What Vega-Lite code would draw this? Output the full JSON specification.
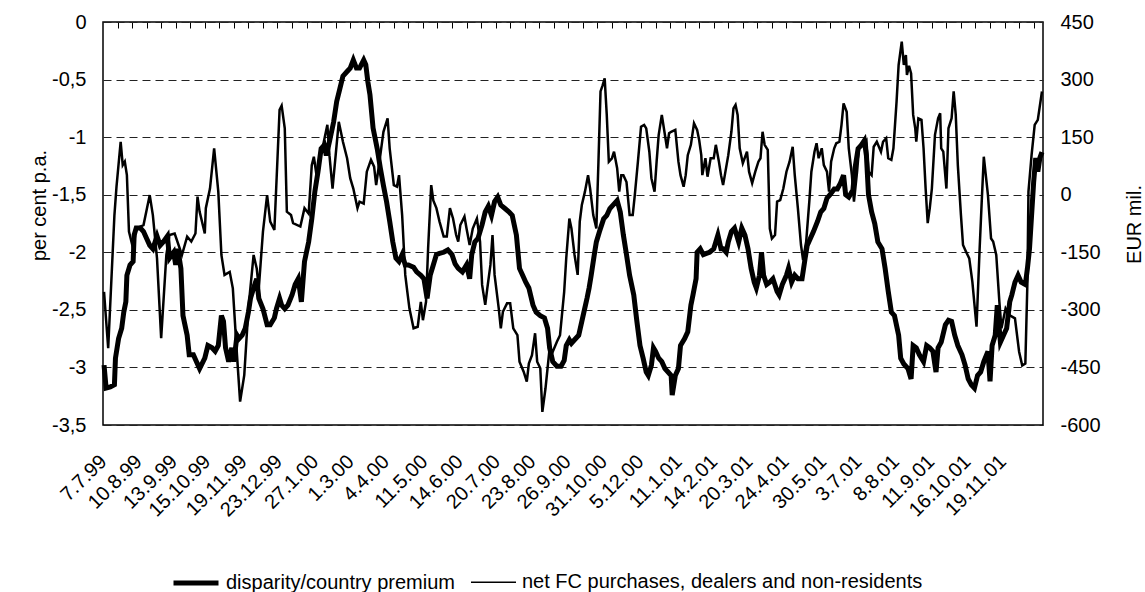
{
"$schema": "https://vega.github.io/schema/vega-lite/v6.json",
"width": 940,
"height": 403,
"autosize": {"type": "none"},
"padding": {"left": 103, "top": 22, "right": 102, "bottom": 167},
"background": "white",
"config": {
  "view": {"stroke": "black", "strokeWidth": 1.5},
  "font": "Liberation Sans",
  "axis": {"labelFont": "Liberation Sans", "titleFont": "Liberation Sans", "labelColor": "black", "titleColor": "black", "titleFontWeight": "normal"},
  "legend": {"labelFont": "Liberation Sans", "labelColor": "black"}
},
"datasets": {
"disparity": [
{"date":"1999-07-08","value":-2.98},{"date":"1999-07-10","value":-3.18},{"date":"1999-07-14","value":-3.17},{"date":"1999-07-18","value":-3.15},{"date":"1999-07-19","value":-2.92},{"date":"1999-07-22","value":-2.75},{"date":"1999-07-25","value":-2.66},{"date":"1999-07-27","value":-2.52},{"date":"1999-07-29","value":-2.43},{"date":"1999-07-30","value":-2.2},
{"date":"1999-08-02","value":-2.11},{"date":"1999-08-05","value":-2.08},{"date":"1999-08-06","value":-1.85},{"date":"1999-08-08","value":-1.79},{"date":"1999-08-12","value":-1.79},{"date":"1999-08-15","value":-1.82},{"date":"1999-08-18","value":-1.88},{"date":"1999-08-21","value":-1.94},{"date":"1999-08-24","value":-1.97},{"date":"1999-08-28","value":-1.86},{"date":"1999-08-31","value":-1.94},
{"date":"1999-09-03","value":-1.91},{"date":"1999-09-07","value":-1.86},{"date":"1999-09-09","value":-2.05},{"date":"1999-09-13","value":-2.0},{"date":"1999-09-15","value":-2.11},{"date":"1999-09-17","value":-1.97},{"date":"1999-09-20","value":-2.14},{"date":"1999-09-22","value":-2.55},{"date":"1999-09-26","value":-2.72},{"date":"1999-09-28","value":-2.89},
{"date":"1999-10-02","value":-2.89},{"date":"1999-10-05","value":-2.95},{"date":"1999-10-08","value":-3.01},{"date":"1999-10-13","value":-2.92},{"date":"1999-10-16","value":-2.81},{"date":"1999-10-20","value":-2.83},{"date":"1999-10-23","value":-2.86},{"date":"1999-10-26","value":-2.81},{"date":"1999-10-29","value":-2.55},{"date":"1999-10-31","value":-2.6},
{"date":"1999-11-02","value":-2.83},{"date":"1999-11-05","value":-2.95},{"date":"1999-11-08","value":-2.83},{"date":"1999-11-10","value":-2.95},{"date":"1999-11-13","value":-2.72},{"date":"1999-11-15","value":-2.75},{"date":"1999-11-18","value":-2.72},{"date":"1999-11-21","value":-2.66},{"date":"1999-11-24","value":-2.52},{"date":"1999-11-26","value":-2.4},{"date":"1999-11-29","value":-2.31},
{"date":"1999-12-02","value":-2.23},{"date":"1999-12-04","value":-2.4},{"date":"1999-12-08","value":-2.49},{"date":"1999-12-12","value":-2.63},{"date":"1999-12-15","value":-2.63},{"date":"1999-12-19","value":-2.57},{"date":"1999-12-21","value":-2.49},{"date":"1999-12-24","value":-2.4},{"date":"1999-12-26","value":-2.46},{"date":"1999-12-29","value":-2.49},
{"date":"2000-01-01","value":-2.46},{"date":"2000-01-05","value":-2.37},{"date":"2000-01-08","value":-2.28},{"date":"2000-01-11","value":-2.23},{"date":"2000-01-14","value":-2.43},{"date":"2000-01-17","value":-2.08},{"date":"2000-01-21","value":-1.91},{"date":"2000-01-24","value":-1.71},{"date":"2000-01-27","value":-1.47},{"date":"2000-01-30","value":-1.3},
{"date":"2000-02-02","value":-1.1},{"date":"2000-02-05","value":-1.07},{"date":"2000-02-07","value":-1.16},{"date":"2000-02-10","value":-1.04},{"date":"2000-02-14","value":-0.87},{"date":"2000-02-17","value":-0.69},{"date":"2000-02-20","value":-0.58},{"date":"2000-02-23","value":-0.47},{"date":"2000-02-27","value":-0.43},
{"date":"2000-03-01","value":-0.4},{"date":"2000-03-04","value":-0.33},{"date":"2000-03-07","value":-0.4},{"date":"2000-03-10","value":-0.4},{"date":"2000-03-14","value":-0.33},{"date":"2000-03-16","value":-0.37},{"date":"2000-03-18","value":-0.52},{"date":"2000-03-20","value":-0.63},{"date":"2000-03-23","value":-0.92},{"date":"2000-03-27","value":-1.1},{"date":"2000-03-30","value":-1.27},
{"date":"2000-04-02","value":-1.42},{"date":"2000-04-05","value":-1.56},{"date":"2000-04-08","value":-1.73},{"date":"2000-04-11","value":-1.91},{"date":"2000-04-14","value":-2.05},{"date":"2000-04-17","value":-2.08},{"date":"2000-04-20","value":-2.02},{"date":"2000-04-23","value":-2.11},{"date":"2000-04-26","value":-2.11},
{"date":"2000-05-01","value":-2.13},{"date":"2000-05-04","value":-2.17},{"date":"2000-05-08","value":-2.2},{"date":"2000-05-11","value":-2.23},{"date":"2000-05-14","value":-2.4},{"date":"2000-05-17","value":-2.2},{"date":"2000-05-20","value":-2.11},{"date":"2000-05-23","value":-2.02},{"date":"2000-05-26","value":-2.01},{"date":"2000-05-30","value":-2.0},
{"date":"2000-06-03","value":-1.98},{"date":"2000-06-07","value":-2.02},{"date":"2000-06-10","value":-2.1},{"date":"2000-06-13","value":-2.14},{"date":"2000-06-17","value":-2.17},{"date":"2000-06-21","value":-2.11},{"date":"2000-06-24","value":-2.23},{"date":"2000-06-26","value":-2.02},{"date":"2000-06-29","value":-1.91},
{"date":"2000-07-02","value":-1.88},{"date":"2000-07-06","value":-1.76},{"date":"2000-07-09","value":-1.65},{"date":"2000-07-12","value":-1.6},{"date":"2000-07-15","value":-1.68},{"date":"2000-07-18","value":-1.56},{"date":"2000-07-21","value":-1.52},{"date":"2000-07-24","value":-1.59},{"date":"2000-07-28","value":-1.62},
{"date":"2000-08-01","value":-1.65},{"date":"2000-08-04","value":-1.68},{"date":"2000-08-08","value":-1.85},{"date":"2000-08-11","value":-2.14},{"date":"2000-08-14","value":-2.2},{"date":"2000-08-17","value":-2.26},{"date":"2000-08-20","value":-2.31},{"date":"2000-08-24","value":-2.46},{"date":"2000-08-27","value":-2.52},{"date":"2000-08-31","value":-2.55},
{"date":"2000-09-04","value":-2.57},{"date":"2000-09-07","value":-2.66},{"date":"2000-09-09","value":-2.83},{"date":"2000-09-12","value":-2.95},{"date":"2000-09-16","value":-2.99},{"date":"2000-09-20","value":-2.99},{"date":"2000-09-23","value":-2.94},{"date":"2000-09-25","value":-2.81},{"date":"2000-09-28","value":-2.76},{"date":"2000-09-30","value":-2.79},
{"date":"2000-10-03","value":-2.76},{"date":"2000-10-07","value":-2.72},{"date":"2000-10-10","value":-2.6},{"date":"2000-10-12","value":-2.52},{"date":"2000-10-15","value":-2.4},{"date":"2000-10-17","value":-2.31},{"date":"2000-10-19","value":-2.2},{"date":"2000-10-22","value":-2.02},{"date":"2000-10-24","value":-1.91},{"date":"2000-10-27","value":-1.82},{"date":"2000-10-31","value":-1.71},
{"date":"2000-11-03","value":-1.68},{"date":"2000-11-06","value":-1.62},{"date":"2000-11-09","value":-1.59},{"date":"2000-11-13","value":-1.55},{"date":"2000-11-16","value":-1.65},{"date":"2000-11-19","value":-1.85},{"date":"2000-11-22","value":-2.02},{"date":"2000-11-25","value":-2.2},{"date":"2000-11-29","value":-2.37},
{"date":"2000-12-02","value":-2.6},{"date":"2000-12-05","value":-2.81},{"date":"2000-12-08","value":-2.92},{"date":"2000-12-11","value":-3.04},{"date":"2000-12-13","value":-3.07},{"date":"2000-12-16","value":-2.98},{"date":"2000-12-18","value":-2.83},{"date":"2000-12-20","value":-2.86},{"date":"2000-12-23","value":-2.92},{"date":"2000-12-26","value":-2.95},{"date":"2000-12-29","value":-3.01},
{"date":"2001-01-01","value":-3.04},{"date":"2001-01-04","value":-3.07},{"date":"2001-01-05","value":-3.24},{"date":"2001-01-08","value":-3.07},{"date":"2001-01-11","value":-3.01},{"date":"2001-01-13","value":-2.81},{"date":"2001-01-17","value":-2.75},{"date":"2001-01-20","value":-2.69},{"date":"2001-01-23","value":-2.46},{"date":"2001-01-25","value":-2.37},{"date":"2001-01-28","value":-2.23},{"date":"2001-01-29","value":-2.0},
{"date":"2001-02-01","value":-1.97},{"date":"2001-02-04","value":-2.02},{"date":"2001-02-07","value":-2.01},{"date":"2001-02-10","value":-2.0},{"date":"2001-02-14","value":-1.97},{"date":"2001-02-16","value":-1.91},{"date":"2001-02-18","value":-1.85},{"date":"2001-02-21","value":-1.97},{"date":"2001-02-23","value":-1.97},{"date":"2001-02-26","value":-2.0},{"date":"2001-02-28","value":-1.91},
{"date":"2001-03-03","value":-1.82},{"date":"2001-03-06","value":-1.79},{"date":"2001-03-10","value":-1.91},{"date":"2001-03-13","value":-1.79},{"date":"2001-03-16","value":-1.85},{"date":"2001-03-19","value":-1.97},{"date":"2001-03-22","value":-2.14},{"date":"2001-03-25","value":-2.26},{"date":"2001-03-27","value":-2.31},{"date":"2001-03-30","value":-2.2},
{"date":"2001-04-01","value":-2.0},{"date":"2001-04-03","value":-2.2},{"date":"2001-04-06","value":-2.28},{"date":"2001-04-09","value":-2.26},{"date":"2001-04-12","value":-2.23},{"date":"2001-04-16","value":-2.34},{"date":"2001-04-18","value":-2.37},{"date":"2001-04-21","value":-2.28},{"date":"2001-04-25","value":-2.2},{"date":"2001-04-27","value":-2.14},{"date":"2001-04-30","value":-2.26},
{"date":"2001-05-03","value":-2.2},{"date":"2001-05-06","value":-2.23},{"date":"2001-05-10","value":-2.23},{"date":"2001-05-13","value":-2.05},{"date":"2001-05-15","value":-1.94},{"date":"2001-05-18","value":-1.88},{"date":"2001-05-21","value":-1.82},{"date":"2001-05-25","value":-1.73},{"date":"2001-05-28","value":-1.65},{"date":"2001-05-31","value":-1.62},
{"date":"2001-06-03","value":-1.53},{"date":"2001-06-06","value":-1.5},{"date":"2001-06-10","value":-1.45},{"date":"2001-06-13","value":-1.45},{"date":"2001-06-16","value":-1.4},{"date":"2001-06-19","value":-1.33},{"date":"2001-06-21","value":-1.5},{"date":"2001-06-24","value":-1.52},{"date":"2001-06-28","value":-1.46},{"date":"2001-06-30","value":-1.27},
{"date":"2001-07-03","value":-1.1},{"date":"2001-07-06","value":-1.07},{"date":"2001-07-09","value":-1.03},{"date":"2001-07-11","value":-1.16},{"date":"2001-07-13","value":-1.5},{"date":"2001-07-16","value":-1.65},{"date":"2001-07-19","value":-1.75},{"date":"2001-07-22","value":-1.91},{"date":"2001-07-26","value":-1.97},{"date":"2001-07-29","value":-2.14},
{"date":"2001-08-01","value":-2.34},{"date":"2001-08-04","value":-2.52},{"date":"2001-08-07","value":-2.55},{"date":"2001-08-11","value":-2.72},{"date":"2001-08-13","value":-2.92},{"date":"2001-08-16","value":-2.97},{"date":"2001-08-20","value":-3.01},{"date":"2001-08-23","value":-3.1},{"date":"2001-08-25","value":-2.81},{"date":"2001-08-28","value":-2.83},{"date":"2001-08-31","value":-2.89},
{"date":"2001-09-04","value":-2.95},{"date":"2001-09-07","value":-2.81},{"date":"2001-09-10","value":-2.83},{"date":"2001-09-13","value":-2.86},{"date":"2001-09-16","value":-3.04},{"date":"2001-09-18","value":-2.83},{"date":"2001-09-21","value":-2.78},{"date":"2001-09-25","value":-2.63},{"date":"2001-09-28","value":-2.59},
{"date":"2001-10-01","value":-2.6},{"date":"2001-10-04","value":-2.72},{"date":"2001-10-07","value":-2.81},{"date":"2001-10-11","value":-2.89},{"date":"2001-10-14","value":-2.98},{"date":"2001-10-17","value":-3.1},{"date":"2001-10-20","value":-3.15},{"date":"2001-10-23","value":-3.18},{"date":"2001-10-26","value":-3.07},{"date":"2001-10-29","value":-3.04},
{"date":"2001-11-01","value":-2.95},{"date":"2001-11-05","value":-2.86},{"date":"2001-11-07","value":-3.12},{"date":"2001-11-09","value":-2.81},{"date":"2001-11-12","value":-2.72},{"date":"2001-11-14","value":-2.46},{"date":"2001-11-17","value":-2.78},{"date":"2001-11-20","value":-2.72},{"date":"2001-11-23","value":-2.66},{"date":"2001-11-26","value":-2.43},{"date":"2001-11-28","value":-2.37},
{"date":"2001-12-01","value":-2.26},{"date":"2001-12-04","value":-2.2},{"date":"2001-12-07","value":-2.26},{"date":"2001-12-11","value":-2.28},{"date":"2001-12-13","value":-2.14},{"date":"2001-12-15","value":-1.97},{"date":"2001-12-17","value":-1.68},{"date":"2001-12-19","value":-1.39},{"date":"2001-12-21","value":-1.18},{"date":"2001-12-23","value":-1.3},{"date":"2001-12-25","value":-1.18},{"date":"2001-12-27","value":-1.13}
],
"netfc": [
{"date":"1999-07-08","value":-253},{"date":"1999-07-12","value":-400},{"date":"1999-07-18","value":-53},{"date":"1999-07-20","value":21},{"date":"1999-07-24","value":138},{"date":"1999-07-26","value":77},{"date":"1999-07-28","value":86},{"date":"1999-07-30","value":51},
{"date":"1999-08-01","value":-96},{"date":"1999-08-05","value":-140},{"date":"1999-08-08","value":-88},{"date":"1999-08-15","value":-79},{"date":"1999-08-18","value":-40},{"date":"1999-08-21","value":-1},{"date":"1999-08-24","value":-53},{"date":"1999-08-28","value":-166},
{"date":"1999-09-01","value":-374},{"date":"1999-09-06","value":-157},{"date":"1999-09-09","value":-105},{"date":"1999-09-14","value":-101},{"date":"1999-09-21","value":-157},{"date":"1999-09-26","value":-109},{"date":"1999-09-30","value":-122},
{"date":"1999-10-04","value":-101},{"date":"1999-10-06","value":-5},{"date":"1999-10-08","value":-44},{"date":"1999-10-13","value":-101},{"date":"1999-10-14","value":-35},{"date":"1999-10-18","value":16},{"date":"1999-10-22","value":121},{"date":"1999-10-26","value":8},{"date":"1999-10-29","value":-157},
{"date":"1999-11-01","value":-209},{"date":"1999-11-06","value":-201},{"date":"1999-11-09","value":-244},{"date":"1999-11-13","value":-418},{"date":"1999-11-16","value":-539},{"date":"1999-11-20","value":-470},{"date":"1999-11-24","value":-296},{"date":"1999-11-29","value":-157},
{"date":"1999-12-02","value":-192},{"date":"1999-12-04","value":-244},{"date":"1999-12-08","value":-96},{"date":"1999-12-12","value":-1},{"date":"1999-12-15","value":-70},{"date":"1999-12-19","value":-92},{"date":"1999-12-22","value":95},{"date":"1999-12-24","value":221},{"date":"1999-12-26","value":232},{"date":"1999-12-29","value":173},{"date":"1999-12-31","value":-44},
{"date":"2000-01-04","value":-53},{"date":"2000-01-06","value":-74},{"date":"2000-01-13","value":-83},{"date":"2000-01-17","value":-35},{"date":"2000-01-21","value":-49},{"date":"2000-01-24","value":77},{"date":"2000-01-26","value":99},{"date":"2000-01-29","value":43},
{"date":"2000-02-01","value":103},{"date":"2000-02-04","value":130},{"date":"2000-02-08","value":182},{"date":"2000-02-10","value":103},{"date":"2000-02-13","value":16},{"date":"2000-02-16","value":103},{"date":"2000-02-19","value":190},{"date":"2000-02-23","value":138},{"date":"2000-02-27","value":95},
{"date":"2000-03-01","value":43},{"date":"2000-03-04","value":16},{"date":"2000-03-08","value":-35},{"date":"2000-03-10","value":-18},{"date":"2000-03-14","value":-23},{"date":"2000-03-17","value":60},{"date":"2000-03-21","value":91},{"date":"2000-03-24","value":73},{"date":"2000-03-26","value":25},{"date":"2000-03-30","value":103},
{"date":"2000-04-02","value":164},{"date":"2000-04-06","value":199},{"date":"2000-04-08","value":121},{"date":"2000-04-12","value":25},{"date":"2000-04-15","value":21},{"date":"2000-04-17","value":51},{"date":"2000-04-20","value":-53},{"date":"2000-04-23","value":-209},{"date":"2000-04-25","value":-253},{"date":"2000-04-27","value":-296},
{"date":"2000-05-01","value":-348},{"date":"2000-05-05","value":-344},{"date":"2000-05-08","value":-279},{"date":"2000-05-10","value":-327},{"date":"2000-05-13","value":-279},{"date":"2000-05-15","value":-140},{"date":"2000-05-18","value":25},{"date":"2000-05-20","value":-15},{"date":"2000-05-23","value":-35},{"date":"2000-05-26","value":-70},{"date":"2000-05-30","value":-109},
{"date":"2000-06-02","value":-109},{"date":"2000-06-05","value":-35},{"date":"2000-06-08","value":-62},{"date":"2000-06-11","value":-105},{"date":"2000-06-13","value":-122},{"date":"2000-06-15","value":-79},{"date":"2000-06-19","value":-57},{"date":"2000-06-21","value":-88},{"date":"2000-06-24","value":-131},{"date":"2000-06-27","value":-88},
{"date":"2000-07-01","value":-62},{"date":"2000-07-04","value":-122},{"date":"2000-07-06","value":-235},{"date":"2000-07-09","value":-287},{"date":"2000-07-11","value":-244},{"date":"2000-07-14","value":-183},{"date":"2000-07-16","value":-105},{"date":"2000-07-18","value":-209},{"date":"2000-07-22","value":-296},{"date":"2000-07-24","value":-348},{"date":"2000-07-26","value":-305},{"date":"2000-07-30","value":-283},
{"date":"2000-08-02","value":-283},{"date":"2000-08-05","value":-348},{"date":"2000-08-09","value":-366},{"date":"2000-08-11","value":-435},{"date":"2000-08-15","value":-461},{"date":"2000-08-18","value":-487},{"date":"2000-08-20","value":-440},{"date":"2000-08-23","value":-418},{"date":"2000-08-26","value":-361},{"date":"2000-08-28","value":-435},{"date":"2000-08-31","value":-452},
{"date":"2000-09-02","value":-566},{"date":"2000-09-05","value":-505},{"date":"2000-09-09","value":-400},{"date":"2000-09-12","value":-409},{"date":"2000-09-16","value":-383},{"date":"2000-09-19","value":-366},{"date":"2000-09-23","value":-253},{"date":"2000-09-25","value":-165},{"date":"2000-09-28","value":-62},{"date":"2000-09-30","value":-88},
{"date":"2000-10-03","value":-157},{"date":"2000-10-06","value":-209},{"date":"2000-10-08","value":-70},{"date":"2000-10-10","value":-27},{"date":"2000-10-13","value":8},{"date":"2000-10-16","value":51},{"date":"2000-10-18","value":16},{"date":"2000-10-21","value":-53},{"date":"2000-10-24","value":-88},{"date":"2000-10-26","value":86},{"date":"2000-10-28","value":269},{"date":"2000-10-30","value":285},
{"date":"2000-11-01","value":303},{"date":"2000-11-03","value":208},{"date":"2000-11-05","value":86},{"date":"2000-11-08","value":95},{"date":"2000-11-10","value":112},{"date":"2000-11-13","value":69},{"date":"2000-11-15","value":8},{"date":"2000-11-17","value":51},{"date":"2000-11-19","value":51},{"date":"2000-11-22","value":33},{"date":"2000-11-25","value":-53},{"date":"2000-11-28","value":-53},{"date":"2000-11-30","value":-1},
{"date":"2000-12-03","value":86},{"date":"2000-12-06","value":177},{"date":"2000-12-09","value":182},{"date":"2000-12-11","value":173},{"date":"2000-12-14","value":112},{"date":"2000-12-16","value":43},{"date":"2000-12-19","value":8},{"date":"2000-12-21","value":86},{"date":"2000-12-23","value":156},{"date":"2000-12-26","value":208},{"date":"2000-12-28","value":173},{"date":"2000-12-31","value":121},
{"date":"2001-01-02","value":160},{"date":"2001-01-04","value":164},{"date":"2001-01-08","value":169},{"date":"2001-01-11","value":86},{"date":"2001-01-13","value":51},{"date":"2001-01-16","value":21},{"date":"2001-01-18","value":51},{"date":"2001-01-20","value":103},{"date":"2001-01-23","value":130},{"date":"2001-01-26","value":186},{"date":"2001-01-29","value":169},{"date":"2001-01-31","value":142},
{"date":"2001-02-02","value":103},{"date":"2001-02-03","value":51},{"date":"2001-02-06","value":95},{"date":"2001-02-08","value":47},{"date":"2001-02-11","value":95},{"date":"2001-02-14","value":95},{"date":"2001-02-16","value":130},{"date":"2001-02-19","value":86},{"date":"2001-02-21","value":51},{"date":"2001-02-23","value":25},{"date":"2001-02-28","value":103},
{"date":"2001-03-03","value":164},{"date":"2001-03-05","value":225},{"date":"2001-03-07","value":234},{"date":"2001-03-09","value":208},{"date":"2001-03-11","value":121},{"date":"2001-03-14","value":82},{"date":"2001-03-18","value":112},{"date":"2001-03-20","value":60},{"date":"2001-03-23","value":30},{"date":"2001-03-26","value":60},{"date":"2001-03-29","value":86},{"date":"2001-03-31","value":95},
{"date":"2001-04-02","value":164},{"date":"2001-04-04","value":130},{"date":"2001-04-07","value":117},{"date":"2001-04-09","value":-88},{"date":"2001-04-11","value":-114},{"date":"2001-04-14","value":-105},{"date":"2001-04-16","value":-18},{"date":"2001-04-19","value":-14},{"date":"2001-04-22","value":16},{"date":"2001-04-25","value":60},{"date":"2001-04-28","value":86},
{"date":"2001-05-01","value":125},{"date":"2001-05-03","value":51},{"date":"2001-05-06","value":-35},{"date":"2001-05-09","value":-131},{"date":"2001-05-11","value":-170},{"date":"2001-05-14","value":-122},{"date":"2001-05-17","value":-18},{"date":"2001-05-19","value":60},{"date":"2001-05-22","value":112},{"date":"2001-05-24","value":134},{"date":"2001-05-26","value":95},{"date":"2001-05-29","value":121},{"date":"2001-05-31","value":77},
{"date":"2001-06-03","value":60},{"date":"2001-06-05","value":8},{"date":"2001-06-07","value":86},{"date":"2001-06-10","value":121},{"date":"2001-06-12","value":134},{"date":"2001-06-15","value":138},{"date":"2001-06-17","value":182},{"date":"2001-06-19","value":238},{"date":"2001-06-22","value":216},{"date":"2001-06-24","value":121},{"date":"2001-06-27","value":51},{"date":"2001-06-29","value":-18},
{"date":"2001-07-02","value":60},{"date":"2001-07-04","value":125},{"date":"2001-07-07","value":130},{"date":"2001-07-11","value":142},{"date":"2001-07-13","value":60},{"date":"2001-07-16","value":51},{"date":"2001-07-18","value":125},{"date":"2001-07-21","value":138},{"date":"2001-07-25","value":112},{"date":"2001-07-27","value":138},{"date":"2001-07-30","value":147},
{"date":"2001-08-01","value":95},{"date":"2001-08-04","value":91},{"date":"2001-08-06","value":121},{"date":"2001-08-09","value":242},{"date":"2001-08-11","value":338},{"date":"2001-08-14","value":399},{"date":"2001-08-16","value":338},{"date":"2001-08-18","value":364},{"date":"2001-08-19","value":312},{"date":"2001-08-21","value":336},{"date":"2001-08-23","value":316},{"date":"2001-08-25","value":208},{"date":"2001-08-27","value":173},{"date":"2001-08-28","value":138},{"date":"2001-08-30","value":199},
{"date":"2001-09-02","value":195},{"date":"2001-09-04","value":121},{"date":"2001-09-06","value":16},{"date":"2001-09-08","value":-74},{"date":"2001-09-10","value":-35},{"date":"2001-09-12","value":16},{"date":"2001-09-15","value":156},{"date":"2001-09-18","value":199},{"date":"2001-09-20","value":212},{"date":"2001-09-21","value":121},{"date":"2001-09-23","value":112},{"date":"2001-09-26","value":16},{"date":"2001-09-28","value":173},
{"date":"2001-10-01","value":199},{"date":"2001-10-03","value":269},{"date":"2001-10-05","value":208},{"date":"2001-10-07","value":77},{"date":"2001-10-10","value":-53},{"date":"2001-10-12","value":-131},{"date":"2001-10-15","value":-149},{"date":"2001-10-18","value":-166},{"date":"2001-10-21","value":-227},{"date":"2001-10-25","value":-344},{"date":"2001-10-28","value":-140},{"date":"2001-10-30","value":-18},
{"date":"2001-11-01","value":99},{"date":"2001-11-05","value":-1},{"date":"2001-11-08","value":-114},{"date":"2001-11-10","value":-122},{"date":"2001-11-13","value":-157},{"date":"2001-11-16","value":-279},{"date":"2001-11-18","value":-348},{"date":"2001-11-22","value":-296},{"date":"2001-11-26","value":-314},
{"date":"2001-12-01","value":-322},{"date":"2001-12-05","value":-409},{"date":"2001-12-08","value":-445},{"date":"2001-12-11","value":-440},{"date":"2001-12-13","value":-227},{"date":"2001-12-14","value":8},{"date":"2001-12-17","value":103},{"date":"2001-12-20","value":182},{"date":"2001-12-23","value":195},{"date":"2001-12-27","value":269}
]
},
"layer": [
{
  "data": {"name": "disparity"},
  "mark": {"type": "line", "color": "black"},
  "encoding": {
    "x": {"field": "date", "type": "temporal",
      "scale": {"type": "utc", "domain": [{"year":1999,"month":7,"date":7,"utc":true},{"year":2001,"month":12,"date":28,"utc":true}]},
      "axis": {"orient": "bottom", "title": null, "grid": false, "domain": false, "ticks": false,
        "labelExpr": "utcFormat(datum.value, '%-d.%-m.%y')", "labelAngle": -45, "labelFontSize": 20, "labelPadding": 26, "labelOffset": -7,
        "labelOverlap": false, "labelBound": false, "labelFlush": false,
        "values": [
          {"year":1999,"month":7,"date":7,"utc":true},{"year":1999,"month":8,"date":10,"utc":true},{"year":1999,"month":9,"date":13,"utc":true},{"year":1999,"month":10,"date":15,"utc":true},{"year":1999,"month":11,"date":19,"utc":true},{"year":1999,"month":12,"date":23,"utc":true},
          {"year":2000,"month":1,"date":27,"utc":true},{"year":2000,"month":3,"date":1,"utc":true},{"year":2000,"month":4,"date":4,"utc":true},{"year":2000,"month":5,"date":11,"utc":true},{"year":2000,"month":6,"date":14,"utc":true},{"year":2000,"month":7,"date":20,"utc":true},{"year":2000,"month":8,"date":23,"utc":true},{"year":2000,"month":9,"date":26,"utc":true},{"year":2000,"month":10,"date":31,"utc":true},{"year":2000,"month":12,"date":5,"utc":true},
          {"year":2001,"month":1,"date":11,"utc":true},{"year":2001,"month":2,"date":14,"utc":true},{"year":2001,"month":3,"date":20,"utc":true},{"year":2001,"month":4,"date":24,"utc":true},{"year":2001,"month":5,"date":30,"utc":true},{"year":2001,"month":7,"date":3,"utc":true},{"year":2001,"month":8,"date":8,"utc":true},{"year":2001,"month":9,"date":11,"utc":true},{"year":2001,"month":10,"date":16,"utc":true},{"year":2001,"month":11,"date":19,"utc":true}
        ]}},
    "y": {"field": "value", "type": "quantitative",
      "scale": {"domain": [-3.5, 0], "nice": false, "zero": false},
      "axis": {"title": "per cent p.a.", "titleFontSize": 20, "titleAngle": 270, "titleAlign": "center", "titleBaseline": "middle", "titleX": -64, "titleY": 183,
        "values": [0, -0.5, -1, -1.5, -2, -2.5, -3, -3.5],
        "labelExpr": "replace(toString(datum.value), '.', ',')",
        "labelFontSize": 20, "labelPadding": 17, "ticks": false, "domain": false,
        "grid": true, "gridColor": "#222222", "gridDash": [8, 5], "gridWidth": 1}},
    "strokeWidth": {"datum": "disparity/country premium", "type": "nominal",
      "scale": {"type": "ordinal", "domain": ["disparity/country premium", "net FC purchases, dealers and non-residents"], "range": [5, 1.5]},
      "legend": {"orient": "none", "legendX": 68, "legendY": 536, "direction": "horizontal", "title": null,
        "symbolType": "stroke", "symbolSize": 2025, "symbolStrokeColor": "black", "symbolFillColor": "black",
        "labelFontSize": 20, "labelOffset": 5, "columnPadding": 13, "labelLimit": 700, "padding": 0}}
  }
},
{
  "data": {"name": "netfc"},
  "mark": {"type": "line", "color": "black"},
  "encoding": {
    "x": {"field": "date", "type": "temporal",
      "scale": {"type": "utc", "domain": [{"year":1999,"month":7,"date":7,"utc":true},{"year":2001,"month":12,"date":28,"utc":true}]},
      "axis": {"orient": "bottom", "title": null, "domain": false, "labels": false, "ticks": false,
        "grid": true, "gridColor": "black", "gridWidth": 1, "gridOpacity": 1, "gridDash": [6, 2000],
        "values": [
          {"year":1999,"month":7,"date":21,"utc":true},{"year":1999,"month":8,"date":4,"utc":true},{"year":1999,"month":8,"date":18,"utc":true},{"year":1999,"month":9,"date":1,"utc":true},{"year":1999,"month":9,"date":15,"utc":true},{"year":1999,"month":9,"date":29,"utc":true},{"year":1999,"month":10,"date":13,"utc":true},{"year":1999,"month":10,"date":27,"utc":true},{"year":1999,"month":11,"date":10,"utc":true},{"year":1999,"month":11,"date":24,"utc":true},{"year":1999,"month":12,"date":8,"utc":true},{"year":1999,"month":12,"date":22,"utc":true},
          {"year":2000,"month":1,"date":5,"utc":true},{"year":2000,"month":1,"date":19,"utc":true},{"year":2000,"month":2,"date":2,"utc":true},{"year":2000,"month":2,"date":16,"utc":true},{"year":2000,"month":3,"date":1,"utc":true},{"year":2000,"month":3,"date":15,"utc":true},{"year":2000,"month":3,"date":29,"utc":true},{"year":2000,"month":4,"date":12,"utc":true},{"year":2000,"month":4,"date":26,"utc":true},{"year":2000,"month":5,"date":10,"utc":true},{"year":2000,"month":5,"date":24,"utc":true},{"year":2000,"month":6,"date":7,"utc":true},{"year":2000,"month":6,"date":21,"utc":true},{"year":2000,"month":7,"date":5,"utc":true},{"year":2000,"month":7,"date":19,"utc":true},{"year":2000,"month":8,"date":2,"utc":true},{"year":2000,"month":8,"date":16,"utc":true},{"year":2000,"month":8,"date":30,"utc":true},{"year":2000,"month":9,"date":13,"utc":true},{"year":2000,"month":9,"date":27,"utc":true},{"year":2000,"month":10,"date":11,"utc":true},{"year":2000,"month":10,"date":25,"utc":true},{"year":2000,"month":11,"date":8,"utc":true},{"year":2000,"month":11,"date":22,"utc":true},{"year":2000,"month":12,"date":6,"utc":true},{"year":2000,"month":12,"date":20,"utc":true},
          {"year":2001,"month":1,"date":3,"utc":true},{"year":2001,"month":1,"date":17,"utc":true},{"year":2001,"month":1,"date":31,"utc":true},{"year":2001,"month":2,"date":14,"utc":true},{"year":2001,"month":2,"date":28,"utc":true},{"year":2001,"month":3,"date":14,"utc":true},{"year":2001,"month":3,"date":28,"utc":true},{"year":2001,"month":4,"date":11,"utc":true},{"year":2001,"month":4,"date":25,"utc":true},{"year":2001,"month":5,"date":9,"utc":true},{"year":2001,"month":5,"date":23,"utc":true},{"year":2001,"month":6,"date":6,"utc":true},{"year":2001,"month":6,"date":20,"utc":true},{"year":2001,"month":7,"date":4,"utc":true},{"year":2001,"month":7,"date":18,"utc":true},{"year":2001,"month":8,"date":1,"utc":true},{"year":2001,"month":8,"date":15,"utc":true},{"year":2001,"month":8,"date":29,"utc":true},{"year":2001,"month":9,"date":12,"utc":true},{"year":2001,"month":9,"date":26,"utc":true},{"year":2001,"month":10,"date":10,"utc":true},{"year":2001,"month":10,"date":24,"utc":true},{"year":2001,"month":11,"date":7,"utc":true},{"year":2001,"month":11,"date":21,"utc":true},{"year":2001,"month":12,"date":5,"utc":true},{"year":2001,"month":12,"date":19,"utc":true}
        ]}},
    "y": {"field": "value", "type": "quantitative",
      "scale": {"domain": [-600, 450], "nice": false, "zero": false},
      "axis": {"orient": "right", "title": "EUR mil.", "titleFontSize": 20, "titleAngle": 270, "titleAlign": "center", "titleBaseline": "middle", "titleX": 91, "titleY": 202,
        "values": [450, 300, 150, 0, -150, -300, -450, -600],
        "labelExpr": "toString(datum.value)",
        "labelFontSize": 20, "labelPadding": 17, "ticks": false, "domain": false, "grid": false}},
    "strokeWidth": {"datum": "net FC purchases, dealers and non-residents", "type": "nominal"}
  }
}
],
"resolve": {"scale": {"x": "independent", "y": "independent"}, "axis": {"x": "independent", "y": "independent"}}
}
